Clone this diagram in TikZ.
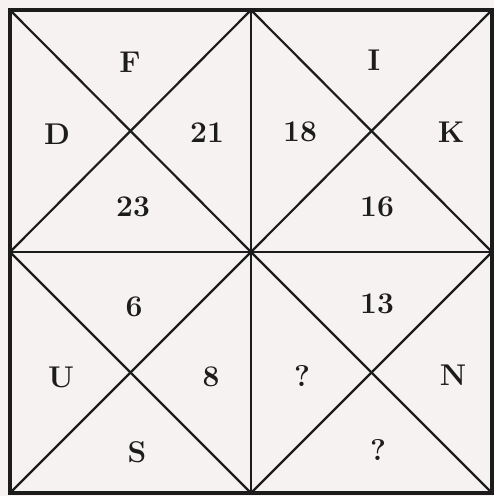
\documentclass[tikz,border=0pt]{standalone}
\usepackage{fontspec}
\usepackage{tikz}
\usetikzlibrary{positioning}
\definecolor{paper}{RGB}{246,242,242}
\definecolor{ink}{RGB}{28,28,28}

\begin{document}
\begin{tikzpicture}[
    x=1pt, y=-1pt,
    lbl/.style={font=\fontsize{30}{32}\selectfont\bfseries, text=ink, inner sep=0pt},
    frame/.style={draw=ink, line width=3.6pt},
    cross/.style={draw=ink, line width=2.2pt}
]
\fill[paper] (0,0) rectangle (494,496);
\useasboundingbox (0,0) rectangle (494,496);

% grid points
\foreach \i/\x in {0/10,1/251,2/492}
  \foreach \j/\y in {0/10,1/252,2/493}
    \coordinate (p\i\j) at (\x,\y);

% diagonals of each quarter
\foreach \i/\k in {0/1,1/2}
  \foreach \j/\l in {0/1,1/2} {
    \draw[cross] (p\i\j) -- (p\k\l);
    \draw[cross] (p\k\j) -- (p\i\l);
  }

% middle lines and frame
\draw[cross] (p10) -- (p12);
\draw[cross] (p01) -- (p21);
\draw[frame] (p00) rectangle (p22);

% top left
\node[lbl] (f) at (130,62) {F};
\node[lbl] (d) at (57,134) {D};
\node[lbl] (n21) at (207,133) {21};
\node[lbl] (n23) at (133,207) {23};
% top right
\node[lbl] (i) at (374,60) {I};
\node[lbl] (n18) at (300,132) {18};
\node[lbl] (k) at (451,132) {K};
\node[lbl] (n16) at (377,207) {16};
% bottom left
\node[lbl] (n6) at (134,307) {6};
\node[lbl] (u) at (61,377) {U};
\node[lbl] (n8) at (211,377) {8};
\node[lbl] (s) at (137,452) {S};
% bottom right
\node[lbl] (n13) at (377,304) {13};
\node[lbl] (q1) at (302,376) {?};
\node[lbl] (nn) at (453,375) {N};
\node[lbl] (q2) at (378,450) {?};
\end{tikzpicture}
\end{document}
